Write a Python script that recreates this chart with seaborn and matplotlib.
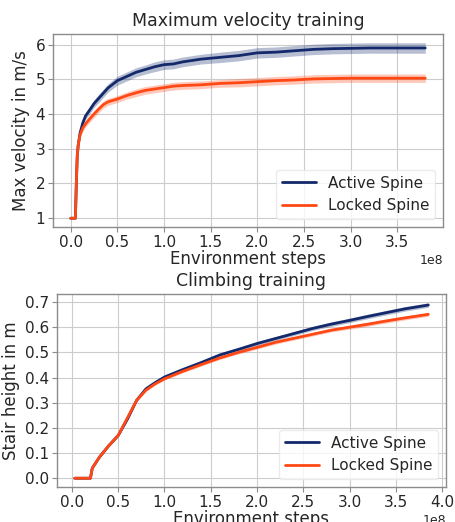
import numpy as np
import pandas as pd
import matplotlib
matplotlib.use("Agg")
import matplotlib.pyplot as plt
from matplotlib.ticker import MultipleLocator
import seaborn as sns

# Vitesse maximale (x en 1e8 pas d'environnement)
vel_steps = [0.0, 0.02, 0.05, 0.06, 0.07, 0.08, 0.1, 0.13, 0.16, 0.2, 0.25, 0.3, 0.35, 0.4,
             0.5, 0.6, 0.7, 0.8, 0.9, 1.0, 1.1, 1.2, 1.4, 1.6, 1.8, 2.0, 2.2, 2.4,
             2.6, 2.8, 3.0, 3.2, 3.4, 3.6, 3.8]
vel_active = [1.0, 1.0, 1.0, 2.0, 2.8, 3.1, 3.45, 3.75, 3.95, 4.1, 4.3, 4.45, 4.6, 4.75,
              4.96, 5.08, 5.2, 5.28, 5.36, 5.42, 5.44, 5.5, 5.58, 5.63, 5.68, 5.76, 5.78, 5.82,
              5.86, 5.88, 5.89, 5.9, 5.9, 5.9, 5.9]
vel_active_sd = [0.0, 0.0, 0.0, 0.05, 0.07, 0.08, 0.09, 0.1, 0.1, 0.11, 0.11, 0.12, 0.12, 0.12,
                 0.13, 0.13, 0.13, 0.13, 0.14, 0.14, 0.14, 0.14, 0.14, 0.15, 0.15, 0.15, 0.15, 0.15,
                 0.15, 0.15, 0.15, 0.15, 0.15, 0.15, 0.15]
vel_locked = [1.0, 1.0, 1.0, 2.0, 2.8, 3.1, 3.4, 3.6, 3.72, 3.85, 4.0, 4.14, 4.27, 4.35,
              4.43, 4.53, 4.61, 4.68, 4.72, 4.76, 4.8, 4.82, 4.84, 4.88, 4.9, 4.93, 4.96, 4.98,
              5.01, 5.02, 5.03, 5.03, 5.03, 5.03, 5.03]
vel_locked_sd = [0.0, 0.0, 0.0, 0.05, 0.06, 0.07, 0.08, 0.09, 0.09, 0.1, 0.1, 0.1, 0.1, 0.1,
                 0.1, 0.1, 0.11, 0.11, 0.11, 0.11, 0.11, 0.11, 0.11, 0.11, 0.12, 0.12, 0.12, 0.12,
                 0.12, 0.12, 0.12, 0.12, 0.12, 0.12, 0.12]

# Hauteur de marche (x en 1e8 pas d'environnement)
climb_steps = [0.03, 0.1, 0.2, 0.22, 0.3, 0.4, 0.5, 0.6, 0.7, 0.8, 0.9, 1.0, 1.2, 1.4,
               1.6, 1.8, 2.0, 2.2, 2.4, 2.6, 2.8, 3.0, 3.2, 3.4, 3.6, 3.85]
climb_active = [0.0, 0.0, 0.0, 0.04, 0.085, 0.13, 0.17, 0.235, 0.31, 0.355, 0.38, 0.402, 0.432, 0.46,
                0.49, 0.512, 0.535, 0.555, 0.575, 0.595, 0.612, 0.627, 0.643, 0.658, 0.673, 0.688]
climb_active_sd = [0.0, 0.0, 0.0, 0.003, 0.004, 0.004, 0.005, 0.005, 0.005, 0.005, 0.006, 0.006, 0.006, 0.007,
                   0.007, 0.007, 0.008, 0.008, 0.008, 0.008, 0.009, 0.009, 0.009, 0.009, 0.009, 0.009]
climb_locked = [0.0, 0.0, 0.0, 0.04, 0.085, 0.13, 0.17, 0.24, 0.31, 0.35, 0.375, 0.395, 0.425, 0.452,
                0.478, 0.5, 0.52, 0.54, 0.556, 0.572, 0.588, 0.6, 0.612, 0.625, 0.637, 0.651]
climb_locked_sd = [0.0, 0.0, 0.0, 0.003, 0.003, 0.004, 0.004, 0.005, 0.005, 0.005, 0.005, 0.005, 0.006, 0.006,
                   0.006, 0.006, 0.007, 0.007, 0.007, 0.007, 0.007, 0.008, 0.008, 0.008, 0.008, 0.008]

labels = ["Active Spine", "Locked Spine"]
colors = ["#13296b", "#ff4814"]

sns.set_style("whitegrid", {"axes.edgecolor": "0.55", "grid.color": "0.8",
                            "xtick.bottom": True, "ytick.left": True})
plt.rcParams["font.family"] = ["DejaVu Sans"]

fig = plt.figure(figsize=(4.56, 5.22), dpi=100)
ax1 = fig.add_axes([53 / 456, 1 - 227 / 522, 390 / 456, 193 / 522])
ax2 = fig.add_axes([57 / 456, 1 - 487 / 522, 389 / 456, 193 / 522])


def draw(ax, steps, series, title, ylabel, ystep):
    x = np.array(steps) * 1e8
    for (mean, sd), lab, col in zip(series, labels, colors):
        mean = np.array(mean)
        sd = np.array(sd)
        df = pd.DataFrame({"steps": x, "val": mean})
        sns.lineplot(data=df, x="steps", y="val", ax=ax, color=col, linewidth=2, label=lab)
        ax.fill_between(x, mean - sd, mean + sd, color=col, alpha=0.3, linewidth=0)
    ax.xaxis.set_major_locator(MultipleLocator(0.5e8))
    ax.yaxis.set_major_locator(MultipleLocator(ystep))
    ax.set_title(title, fontsize=12.5)
    ax.set_xlabel("Environment steps", fontsize=12, labelpad=0)
    ax.set_ylabel(ylabel, fontsize=12, labelpad=4)
    ax.tick_params(labelsize=11, length=3.5, color="0.55", pad=2)
    ax.xaxis.get_offset_text().set_fontsize(9)
    for s in ax.spines.values():
        s.set_linewidth(1)
    ax.legend(loc="lower right", fontsize=11, framealpha=0.8, edgecolor="0.9",
              handlelength=2.2)


draw(ax1, vel_steps, [(vel_active, vel_active_sd), (vel_locked, vel_locked_sd)],
     "Maximum velocity training", "Max velocity in m/s", 1)
draw(ax2, climb_steps, [(climb_active, climb_active_sd), (climb_locked, climb_locked_sd)],
     "Climbing training", "Stair height in m", 0.1)

fig.savefig("out.png", dpi=100)
